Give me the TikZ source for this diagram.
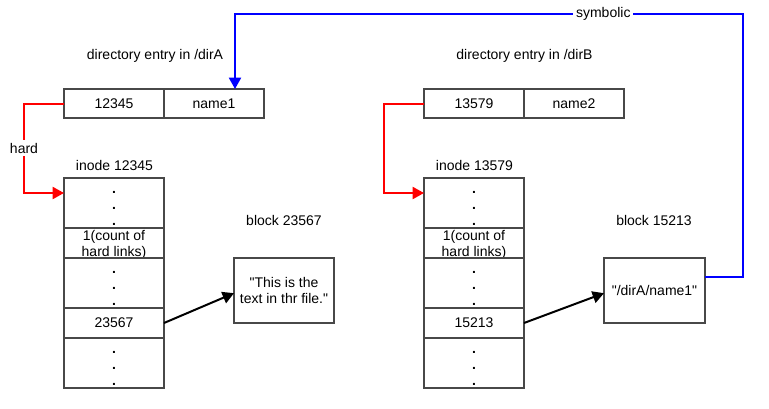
\documentclass[tikz,border=0pt]{standalone}
\usepackage{fontspec}
\setmainfont{Liberation Sans}
\usetikzlibrary{arrows.meta}
\definecolor{boxgray}{RGB}{72,72,72}
\definecolor{hardred}{RGB}{255,0,0}
\definecolor{symblue}{RGB}{0,0,255}
\newcommand{\dotscellbox}{\parbox[c][37.5pt][t]{70pt}{\centering\rule{0pt}{11.25pt}\textbf{.}\\\textbf{.}\\\textbf{.}}}
\newcommand{\countcellbox}{\parbox[c][22.5pt][t]{70pt}{\centering\rule{0pt}{9pt}1(count of\\hard links)}}
\begin{document}
\begin{tikzpicture}[x=0.75pt,y=-0.75pt,
  every node/.style={font=\fontsize{10.5}{12}\selectfont, text=black},
  cell/.style={draw=boxgray, line width=1.5pt, inner sep=0pt, outer sep=0pt,
    anchor=north west, minimum width=75pt, align=center},
  tall/.style={cell, minimum height=37.5pt},
  short/.style={cell, minimum height=22.5pt},
  entry/.style={cell, minimum height=21.75pt},
  blockbox/.style={cell, minimum height=48.75pt},
  caption/.style={inner sep=0pt},
  tip/.style={-{Triangle[length=8.5pt,width=9pt]}},
  hardlink/.style={draw=hardred, line width=1.5pt, tip},
  symlink/.style={draw=symblue, line width=1.5pt, tip},
  ptr/.style={draw=black, line width=1.5pt, tip},
  lab/.style={fill=white, inner sep=2pt}
]
\useasboundingbox (0,0) rectangle (769,408);

% captions
\node[caption] (capA) at (155,56) {directory entry in /dirA};
\node[caption] (capB) at (524.5,56) {directory entry in /dirB};
\node[caption] (capIA) at (114.5,165) {inode 12345};
\node[caption] (capIB) at (474.5,165) {inode 13579};
\node[caption] (capBA) at (284,220) {block 23567};
\node[caption] (capBB) at (654,220) {block 15213};

% directory entries
\node[entry] (a1) at (64,89) {12345};
\node[entry] (a2) at (164,89) {name1};
\node[entry] (b1) at (424,89) {13579};
\node[entry] (b2) at (524,89) {name2};

% left inode
\node[tall]  (ia1) at (64,178) {\dotscellbox};
\node[short] (ia2) at (64,228) {\countcellbox};
\node[tall]  (ia3) at (64,258) {\dotscellbox};
\node[short] (ia4) at (64,308) {23567};
\node[tall]  (ia5) at (64,338) {\dotscellbox};

% right inode
\node[tall]  (ib1) at (424,178) {\dotscellbox};
\node[short] (ib2) at (424,228) {\countcellbox};
\node[tall]  (ib3) at (424,258) {\dotscellbox};
\node[short] (ib4) at (424,308) {15213};
\node[tall]  (ib5) at (424,338) {\dotscellbox};

% blocks
\node[blockbox] (c1) at (234,258) {\textquotedbl This is the\\text in thr file.\textquotedbl};
\node[blockbox, minimum width=75.75pt] (c2) at (604,258) {\textquotedbl/dirA/name1\textquotedbl};

% hard links
\draw[hardlink] (a1.west) -- ++(-40,0) |- node[pos=0.25, lab]{hard} ([yshift=7.5pt]ia1.west);
\draw[hardlink] (b1.west) -- ++(-40,0) |- ([yshift=7.5pt]ib1.west);

% block pointers
\draw[ptr] (ia4.east) -- ([yshift=-2pt]c1.west);
\draw[ptr] (ib4.east) -- ([yshift=-2pt]c2.west);

% symbolic link
\coordinate (s1) at (743,14);
\coordinate (s2) at (235,14);
\draw[symlink] ([yshift=10pt]c2.east) -| (s1) -- node[pos=0.275, lab]{symbolic} (s2) -- (s2 |- a2.north);
\end{tikzpicture}
\end{document}
